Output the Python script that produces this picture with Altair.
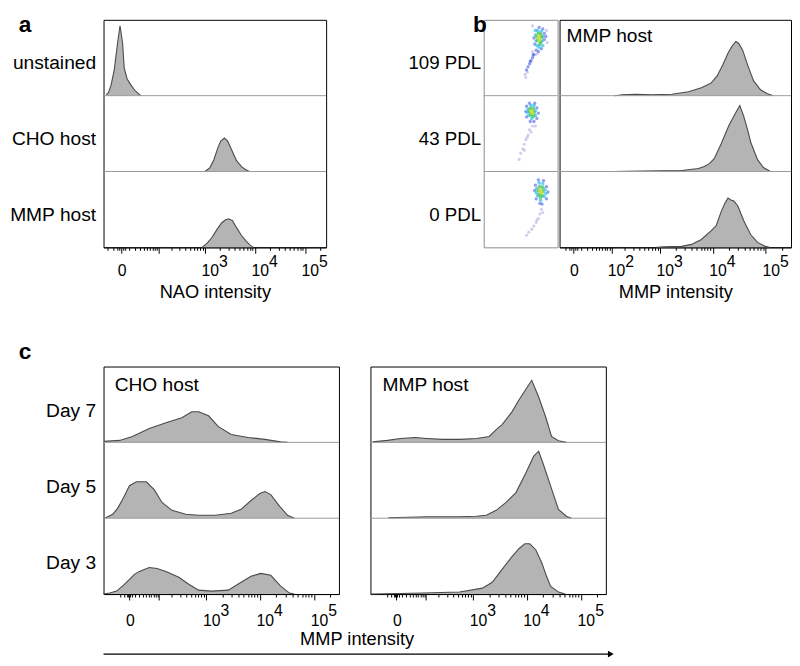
import altair as alt
import pandas as pd

FONT = "Liberation Sans"
FILL = "#b4b4b4"
EDGE = "#4a4a4a"
DIVIDER = "#9a9a9a"
ROW = 77
H = 231

# ---------------- panel a : NAO intensity ----------------
A_ROWS = ["unstained", "CHO host", "MMP host"]
A_UNSTAINED_X = [-21.9, -17.6, -13.0, -8.2, -4.0, -1.3, 1.3, 3.2, 6.8, 12.1, 19.4, 31.5]
A_UNSTAINED_Y = [1, 3, 11, 27, 54, 71, 54, 28, 17, 11, 5, 0]
A_CHO_X = [1000, 1258, 1511, 1815, 2079, 2464, 2860, 3432, 4312, 5410, 6490, 7770]
A_CHO_Y = [0, 4, 12, 24, 31, 34, 31, 22, 11, 5, 2, 0]
A_MMP_X = [869, 1096, 1380, 1734, 2178, 2612, 2993, 3590, 4312, 5410, 6780, 8140, 9300]
A_MMP_Y = [0, 4, 10, 18, 25, 28, 29, 27, 20, 12, 6, 2, 0]

# ---------------- panel b : MMP intensity vs PDL ----------------
B_ROWS = ["109 PDL", "43 PDL", "0 PDL"]
B_109_X = [120, 178, 328, 703, 1682, 3500, 6100, 9370, 12110, 15650, 19370, 22950,
           27240, 30970, 36720, 45480, 58750, 79270, 106700, 137800]
B_109_Y = [0, 1, 1.5, 1, 1.5, 4, 8, 13, 20, 32, 43, 50, 55, 53, 46, 31, 15, 6, 2, 0]
B_43_X = [108, 451, 2590, 5370, 6950, 8610, 10650, 14370, 20210, 27240, 32350, 38380,
          45480, 51680, 69680, 89980, 121400]
B_43_Y = [0, 0.5, 1, 3, 5, 8, 13, 28, 47, 60, 67, 56, 42, 30, 12, 4, 0]
B_0_X = [876, 1190, 2590, 3980, 6100, 9370, 11590, 14370, 17040, 19370, 22010, 25040,
         29710, 38380, 51680, 69680, 97970, 116200]
B_0_Y = [0, 0.5, 1, 3, 8, 17, 22, 36, 45, 50, 48, 47, 42, 27, 13, 5, 1, 0]

# scatter (density dot plots), local coordinates 0-100, density level 0-4
SC_109_X = [75, 76, 74, 75, 72, 78, 73, 77, 74, 77, 76, 70, 80, 71, 79, 73, 78, 70, 75, 80, 72,
            68, 82, 69, 82, 75, 80, 71, 74, 68, 66, 64, 62, 60, 58, 63, 67, 78, 84,
            85, 66, 56, 59, 72, 86, 66, 57]
SC_109_Y = [77, 75, 79, 73, 78, 77, 73, 71, 82, 81, 68, 80, 78, 72, 72, 86, 85, 86, 64, 66, 66,
            76, 82, 68, 74, 90, 88, 60, 58, 54, 50, 46, 42, 38, 34, 45, 54, 62, 78,
            86, 58, 28, 31, 55, 70, 92, 24]
SC_109_D = [4, 4, 4, 4, 3, 3, 3, 3, 3, 3, 3, 2, 2, 2, 2, 2, 2, 2, 2, 2, 2,
            1, 1, 1, 1, 1, 1, 1, 1, 1, 1, 1, 1, 1, 1, 1, 1, 1, 1,
            0, 0, 0, 0, 0, 0, 0, 0]
SC_43_X = [65, 66, 64, 62, 68, 64, 67, 63, 67, 60, 70, 61, 70, 64, 68, 65, 59,
           58, 72, 58, 72, 62, 69, 63, 68, 74, 57,
           66, 62, 60, 57, 55, 53, 50, 48, 64, 59, 55, 70]
SC_43_Y = [79, 77, 80, 79, 78, 75, 73, 83, 83, 82, 80, 74, 74, 87, 87, 70, 78,
           86, 84, 72, 70, 90, 90, 66, 66, 77, 79,
           60, 55, 48, 42, 36, 30, 24, 16, 52, 45, 28, 60]
SC_43_D = [4, 4, 4, 3, 3, 3, 3, 3, 3, 2, 2, 2, 2, 2, 2, 2, 2,
           1, 1, 1, 1, 1, 1, 1, 1, 1, 1,
           0, 0, 0, 0, 0, 0, 0, 0, 0, 0, 0, 0]
SC_0_X = [77, 78, 76, 74, 80, 75, 79, 76, 80, 77, 72, 83, 73, 82, 75, 80, 77, 71, 84,
          70, 85, 71, 85, 74, 81, 76, 79, 69, 87,
          78, 76, 74, 71, 68, 65, 61, 58, 80, 72]
SC_0_Y = [74, 72, 76, 75, 74, 70, 69, 80, 79, 66, 78, 76, 68, 67, 85, 84, 62, 72, 71,
          82, 80, 64, 64, 89, 88, 58, 57, 75, 73,
          50, 44, 38, 33, 28, 24, 20, 16, 46, 36]
SC_0_D = [4, 4, 4, 3, 3, 3, 3, 3, 3, 3, 2, 2, 2, 2, 2, 2, 2, 2, 2,
          1, 1, 1, 1, 1, 1, 1, 1, 1, 1,
          0, 0, 0, 0, 0, 0, 0, 0, 0, 0]
SC_COLORS = ["#b3abe2", "#5366e6", "#27b8ee", "#35c24a", "#c6e23c"]
SC_SIZES = [10, 16, 30, 30, 26]
SC_OPAC = [0.6, 0.75, 0.9, 0.95, 1.0]

# ---------------- panel c : MMP intensity over days ----------------
C_ROWS = ["Day 7", "Day 5", "Day 3"]
C_CHO_D7_X = [-78, -20.8, 5.4, 52.4, 148, 328, 519, 709, 1100, 1690, 2944, 6040, 12350, 24150, 32400]
C_CHO_D7_Y = [1, 2, 6, 14, 20, 25, 31, 31, 27, 16, 8, 5, 3, 0.5, 0]
C_CHO_D5_X = [-73.9, -41.5, -26.1, -13.6, 0, 13.6, 26.1, 41.5, 73.9, 119, 202, 395, 709, 1488,
              2944, 4496, 6852, 10000, 12350, 15900, 23170, 32400, 43440]
C_CHO_D5_Y = [0, 4, 10, 19, 33, 37, 37, 37, 29, 16, 8, 4, 3, 3, 5, 9, 18, 25, 27, 24, 12, 3, 0]
C_CHO_D3_X = [-80, -52.4, -28.9, -11.4, 0, 9.3, 20.8, 52.4, 89.1, 148, 284, 453, 709, 1252,
              2592, 4496, 6852, 10430, 15900, 24150, 35200, 43440]
C_CHO_D3_Y = [0, 1, 3, 9, 15, 20, 23, 27, 26, 23, 17, 10, 4, 3, 4, 12, 18, 21, 19, 8, 1, 0]
C_MMP_D7_X = [-69.2, -18.3, 7.3, 48.6, 106, 246, 543, 1148, 2008, 2704, 3488, 5320, 7148, 9600,
              12350, 16560, 22240, 28580, 38340, 53560]
C_MMP_D7_Y = [0.5, 2, 4, 5, 4, 3, 3, 4, 6, 13, 18, 31, 43, 54, 63, 46, 26, 6, 1.7, 0]
C_MMP_D5_X = [-15.9, 106, 543, 1148, 1768, 2704, 4128, 6300, 9600, 13420, 16560, 20430, 27380,
              38340, 53560, 66040]
C_MMP_D5_Y = [0.5, 1.5, 1.5, 2, 3, 8, 16, 26, 46, 63, 68, 54, 33, 9, 2, 0]
C_MMP_D3_X = [-79, 7.3, 83.9, 543, 1488, 2280, 3488, 5320, 7148, 9204, 11350, 14620, 18790,
              23180, 27380, 38340, 51360]
C_MMP_D3_Y = [0, 0.5, 1, 2, 6, 12, 25, 38, 46, 51, 51, 45, 32, 18, 8, 2, 0]

MAJOR = [0, 100, 1000, 10000, 100000]
MINOR = ([-20, -10, -4, -2, 2, 4, 10, 20, 30, 40, 50, 60, 70, 80, 90]
         + [k * 10 ** e for e in (2, 3, 4) for k in range(2, 10)] + [200000])

# zero-width space keeps the figure spaces from being trimmed
SP = "\u200b\u2007\u2007"


def hist_df(rows):
    recs = []
    for i, (name, xs, ys) in enumerate(rows):
        base = (len(rows) - 1 - i) * ROW
        for x, y in zip(xs, ys):
            recs.append({"row": name, "x": x, "count": y, "base": base, "top": base + y})
    return pd.DataFrame(recs)


def row_axis(names, shift, pad):
    n = len(names)
    vals = [(n - 1 - i) * ROW + ROW / 2 - shift for i in range(n)]
    expr = ""
    for i, nm in enumerate(names[:-1]):
        expr += "datum.value > %g ? '%s' : " % ((n - 2 - i) * ROW + ROW, nm)
    expr += "'%s'" % names[-1]
    return alt.Axis(values=vals, labelExpr=expr, ticks=False, domain=False, grid=False,
                    labelFontSize=19.5, labelPadding=pad, labelColor="black", title=None,
                    labelAlign="right", labelBaseline="middle")


def x_axis(dom, labelled, xtitle, lp):
    vals = sorted(v for v in MAJOR + MINOR if dom[0] < v < dom[1])
    lab = "[%s]" % ",".join(str(v) for v in labelled)
    expr = ("datum.value == 0 ? ['', '0'] : (indexof(%s, datum.value) >= 0 ? "
            "['%s' + round(log(datum.value) / LN10), '10'] : '')") % (lab, SP)
    maj = "[%s]" % ",".join(str(v) for v in MAJOR)
    kw = dict(values=vals, labelExpr=expr,
              tickSize={"condition": {"test": "indexof(%s, datum.value) >= 0" % maj, "value": 6},
                        "value": 3},
              tickWidth=1, orient="bottom",
              labelAlign="left", labelOffset=-4, labelFontSize=16, labelLineHeight=10,
              labelBaseline="top", labelPadding=lp,
              labelOverlap=False, labelFlush=False, labelBound=False, grid=False,
              domainColor="black", tickColor="black", labelColor="black",
              titleFontSize=18.5, titleFontWeight="normal", titlePadding=4, titleColor="black")
    kw["title"] = xtitle
    return alt.Axis(**kw)


def hist_view(rows, c, dom, width, labelled, xtitle, names, texts, title, shift=5, lp=0, pad=8):
    df = hist_df(rows)
    xs = alt.Scale(type="symlog", constant=c, domain=dom, nice=False)
    ys = alt.Scale(domain=[0, H], nice=False)
    yaxis = row_axis(names, shift, pad) if names else None
    xaxis = x_axis(dom, labelled, xtitle, lp)
    area = alt.Chart(df).mark_area(
        color=FILL, opacity=1, line=alt.OverlayMarkDef(color=EDGE, strokeWidth=1.1)
    ).encode(
        x=alt.X("x:Q", scale=xs, axis=xaxis),
        y=alt.Y("top:Q", scale=ys, axis=yaxis),
        y2="base:Q",
        detail="row:N",
    )
    div = alt.Chart(pd.DataFrame({"y": [ROW, 2 * ROW]})).mark_rule(
        color=DIVIDER, strokeWidth=1).encode(y=alt.Y("y:Q", scale=ys, axis=yaxis))
    layers = [area, div]
    if texts:
        tdf = pd.DataFrame(texts, columns=["t", "x", "y"])
        layers.append(alt.Chart(tdf).mark_text(
            align="left", baseline="alphabetic", fontSize=19.5, color="black").encode(
            x=alt.X("x:Q", scale=xs, axis=xaxis), y=alt.Y("y:Q", scale=ys, axis=yaxis),
            text="t:N"))
    ch = alt.layer(*layers).properties(width=width, height=H)
    if title:
        ch = ch.properties(title=title)
    return ch


def letter(t, dx, offset):
    return alt.TitleParams(t, anchor="start", frame="group", fontSize=23, fontWeight="bold",
                           dx=dx, offset=offset, font=FONT, color="black")


# panel a
panel_a = hist_view(
    [(A_ROWS[0], A_UNSTAINED_X, A_UNSTAINED_Y), (A_ROWS[1], A_CHO_X, A_CHO_Y),
     (A_ROWS[2], A_MMP_X, A_MMP_Y)],
    22, [-27.6, 263000], 226, [1000, 10000, 100000],
    "NAO intensity", A_ROWS, None, letter("a", -86, -17))

# panel b
hist_b = hist_view(
    [(B_ROWS[0], B_109_X, B_109_Y), (B_ROWS[1], B_43_X, B_43_Y), (B_ROWS[2], B_0_X, B_0_Y)],
    24, [-19.6, 297000], 235, [100, 1000, 10000, 100000],
    "MMP intensity", None, [("MMP host", -8.4, 208)], None)

sc_recs = []
for i, (xs_, ys_, ds_) in enumerate([(SC_109_X, SC_109_Y, SC_109_D),
                                     (SC_43_X, SC_43_Y, SC_43_D),
                                     (SC_0_X, SC_0_Y, SC_0_D)]):
    base = (2 - i) * 100
    for x, y, d in zip(xs_, ys_, ds_):
        sc_recs.append({"x": x, "y": y + base, "d": d})
sc_df = pd.DataFrame(sc_recs).sort_values("d", kind="stable")
sc_ys = alt.Scale(domain=[0, 300], nice=False)
sc_axis = alt.Axis(values=[250 - 6.5, 150 - 6.5, 50 - 6.5],
                   labelExpr="datum.value > 200 ? '109 PDL' : (datum.value > 100 ? '43 PDL' : '0 PDL')",
                   ticks=False, domain=False, grid=False, labelFontSize=19, labelPadding=3,
                   labelColor="black", title=None, labelAlign="right", labelBaseline="middle")
sc_pts = alt.Chart(sc_df).mark_circle().encode(
    x=alt.X("x:Q", scale=alt.Scale(domain=[0, 100], nice=False), axis=None),
    y=alt.Y("y:Q", scale=sc_ys, axis=sc_axis),
    color=alt.Color("d:O", scale=alt.Scale(domain=[0, 1, 2, 3, 4], range=SC_COLORS), legend=None),
    size=alt.Size("d:O", scale=alt.Scale(domain=[0, 1, 2, 3, 4], range=SC_SIZES), legend=None),
    opacity=alt.Opacity("d:O", scale=alt.Scale(domain=[0, 1, 2, 3, 4], range=SC_OPAC), legend=None),
)
sc_div = alt.Chart(pd.DataFrame({"y": [100, 200]})).mark_rule(color=DIVIDER).encode(
    y=alt.Y("y:Q", scale=sc_ys, axis=sc_axis))
scatter_b = alt.layer(sc_pts, sc_div).properties(
    width=75, height=H, title=letter("b", -11, -17),
    view=alt.ViewBackground(stroke="#8c8c8c"))
panel_b = alt.hconcat(scatter_b, hist_b, spacing=0)

# panel c
C_DOM = [-80, 286000]
cho_c = hist_view(
    [(C_ROWS[0], C_CHO_D7_X, C_CHO_D7_Y), (C_ROWS[1], C_CHO_D5_X, C_CHO_D5_Y),
     (C_ROWS[2], C_CHO_D3_X, C_CHO_D3_Y)],
    40, C_DOM, 239, [1000, 10000, 100000],
    None, C_ROWS, [("CHO host", -35, 206)], letter("c", -86, 3), shift=6.5, lp=3, pad=8)
mmp_c = hist_view(
    [(C_ROWS[0], C_MMP_D7_X, C_MMP_D7_Y), (C_ROWS[1], C_MMP_D5_X, C_MMP_D5_Y),
     (C_ROWS[2], C_MMP_D3_X, C_MMP_D3_Y)],
    40, C_DOM, 239, [1000, 10000, 100000],
    None, None, [("MMP host", -32, 206)], None, lp=3)

ARROW_X = [0]
ARROW_X2 = [1]
ax_scale = alt.Scale(domain=[0, 1], nice=False)
ay_scale = alt.Scale(domain=[-1, 1], nice=False)
arrow_line = alt.Chart(pd.DataFrame({"x": ARROW_X, "x2": ARROW_X2, "y": [0]})).mark_rule(
    color="black", strokeWidth=1.5).encode(
    x=alt.X("x:Q", scale=ax_scale, axis=None), x2="x2:Q",
    y=alt.Y("y:Q", scale=ay_scale, axis=None))
arrow_head = alt.Chart(pd.DataFrame({"x": ARROW_X2, "y": [0]})).mark_point(
    shape="triangle-right", filled=True, color="black", size=45, opacity=1).encode(
    x=alt.X("x:Q", scale=ax_scale, axis=None), y=alt.Y("y:Q", scale=ay_scale, axis=None))
arrow = alt.layer(arrow_line, arrow_head).properties(
    width=515, height=4,
    title=alt.TitleParams("MMP intensity", fontSize=18.5, fontWeight="normal", anchor="middle",
                          offset=2, font=FONT, color="black"),
    view=alt.ViewBackground(stroke="transparent"))

panel_c = alt.vconcat(alt.hconcat(cho_c, mmp_c, spacing=28), arrow, spacing=0)

top = alt.hconcat(panel_a, panel_b, spacing=80)
chart = alt.concat(top, panel_c, columns=1, spacing=39, align="none").properties(
    padding={"left": 0, "top": 0, "right": 0, "bottom": 0}
).configure(font=FONT).configure_view(stroke="black", strokeWidth=1)

chart.save("out.html", embed_options={"renderer": "svg", "actions": False})
